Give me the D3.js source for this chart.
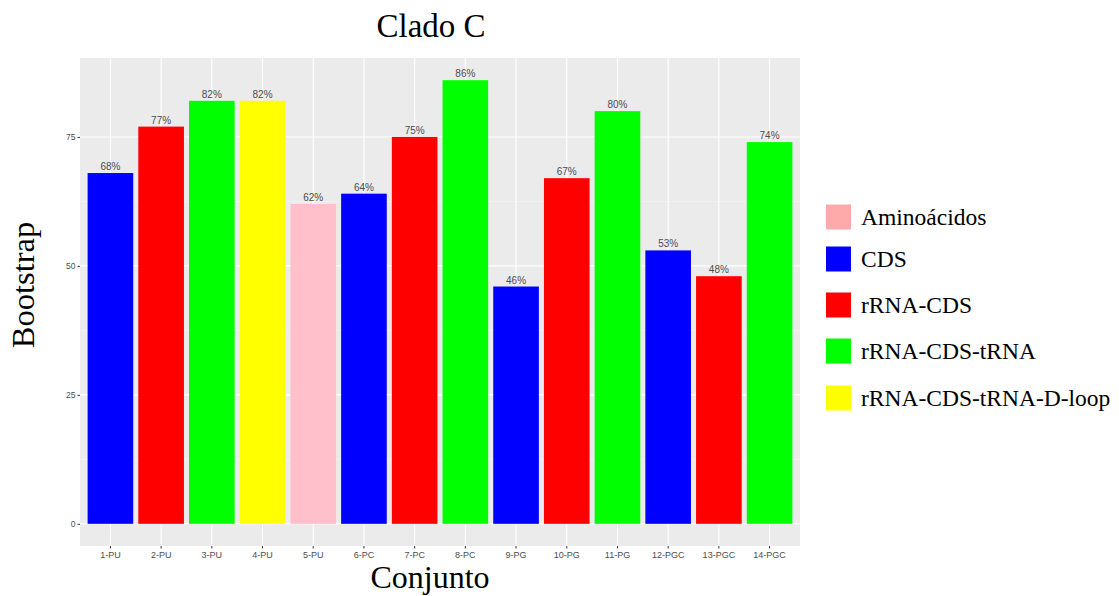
<!DOCTYPE html>
<html><head><meta charset="utf-8">
<script src="https://cdn.jsdelivr.net/npm/d3@7"></script>
<style>body{margin:0;background:#fff;} svg{display:block;}</style>
</head><body>
<svg id="chart" width="1119" height="596"></svg>
<script>
const categories = ["1-PU","2-PU","3-PU","4-PU","5-PU","6-PC","7-PC","8-PC","9-PG","10-PG","11-PG","12-PGC","13-PGC","14-PGC"];
const values = [68,77,82,82,62,64,75,86,46,67,80,53,48,74];
const groups = ["CDS","rRNA-CDS","rRNA-CDS-tRNA","rRNA-CDS-tRNA-D-loop","Aminoácidos","CDS","rRNA-CDS","rRNA-CDS-tRNA","CDS","rRNA-CDS","rRNA-CDS-tRNA","CDS","rRNA-CDS","rRNA-CDS-tRNA"];
const legendLabels = ["Aminoácidos","CDS","rRNA-CDS","rRNA-CDS-tRNA","rRNA-CDS-tRNA-D-loop"];
const barColors = ["#FFC0CB","#0000FF","#FF0000","#00FF00","#FFFF00"];
const legendColors = ["#FFAAAA","#0000FF","#FF0000","#00FF00","#FFFF00"];
const yTicks = [0,25,50,75];

const svg = d3.select("#chart");
const L = 80, R = 800, T = 58, B = 546;
const color = d3.scaleOrdinal().domain(legendLabels).range(barColors);
const legColor = d3.scaleOrdinal().domain(legendLabels).range(legendColors);

// discrete x scale with ggplot-like expansion (0.6 each side)
const n = categories.length;
const step = (R - L) / (n - 1 + 1.2);
const x = d3.scaleBand().domain(categories).range([L + 0.6*step - step/2, R - 0.6*step + step/2]).paddingInner(0.1).paddingOuter(0.05);
const xc = d => x(d) + x.bandwidth()/2;

const ymax = d3.max(values);
const y = d3.scaleLinear().domain([-ymax*0.05, ymax*1.05]).range([B, T]);

svg.append("rect").attr("x", L).attr("y", T).attr("width", R-L).attr("height", B-T).attr("fill", "#EBEBEB");

// minor grid
const minor = [12.5, 37.5, 62.5];
svg.selectAll(".ymin").data(minor).join("line")
  .attr("x1", L).attr("x2", R).attr("y1", d=>y(d)).attr("y2", d=>y(d))
  .attr("stroke", "#F5F5F5").attr("stroke-width", 0.6);
// major grid
svg.selectAll(".ymaj").data(yTicks).join("line")
  .attr("x1", L).attr("x2", R).attr("y1", d=>y(d)).attr("y2", d=>y(d))
  .attr("stroke", "#FFFFFF").attr("stroke-width", 1.1);
svg.selectAll(".xmaj").data(categories).join("line")
  .attr("x1", d=>xc(d)).attr("x2", d=>xc(d)).attr("y1", T).attr("y2", B)
  .attr("stroke", "#FFFFFF").attr("stroke-width", 1.1);

// bars
svg.selectAll(".bar").data(categories).join("rect")
  .attr("x", d=>x(d)).attr("width", x.bandwidth())
  .attr("y", (d,i)=>y(values[i])).attr("height", (d,i)=>y(0)-y(values[i]))
  .attr("fill", (d,i)=>color(groups[i]));

// value labels
svg.selectAll(".lbl").data(categories).join("text")
  .attr("x", d=>xc(d)).attr("y", (d,i)=>y(values[i]) - 3)
  .attr("text-anchor", "middle").attr("font-family", "Liberation Sans, Arial, sans-serif")
  .attr("font-size", 10).attr("fill", "#4D4D4D")
  .text((d,i)=>values[i] + "%");

// axes
const yAxis = d3.axisLeft(y).tickValues(yTicks).tickSize(2.5).tickPadding(2);
const gy = svg.append("g").attr("transform", `translate(${L},0)`).call(yAxis);
gy.select(".domain").remove();
gy.selectAll("line").attr("stroke", "#333333");
gy.selectAll("text").attr("font-family", "Liberation Sans, Arial, sans-serif").attr("font-size", 8.5).attr("fill", "#4D4D4D");

const xAxis = d3.axisBottom(x).tickSize(2.5).tickPadding(3);
const gx = svg.append("g").attr("transform", `translate(0,${B})`).call(xAxis);
gx.select(".domain").remove();
gx.selectAll("line").attr("stroke", "#333333");
gx.selectAll("text").attr("font-family", "Liberation Sans, Arial, sans-serif").attr("font-size", 9).attr("fill", "#4D4D4D");

// titles
svg.append("text").attr("x", 431).attr("y", 37).attr("text-anchor", "middle")
  .attr("font-family", "Liberation Serif, Times New Roman, serif").attr("font-size", 33).attr("fill", "#000").text("Clado C");
svg.append("text").attr("x", 430).attr("y", 588).attr("text-anchor", "middle")
  .attr("font-family", "Liberation Serif, Times New Roman, serif").attr("font-size", 32).attr("fill", "#000").text("Conjunto");
svg.append("text").attr("transform", "translate(34,285) rotate(-90)").attr("text-anchor", "middle")
  .attr("font-family", "Liberation Serif, Times New Roman, serif").attr("font-size", 32.5).attr("fill", "#000").text("Bootstrap");

// legend
const legY = [217, 259, 305, 351, 398];
const lg = svg.append("g");
legendLabels.forEach((lab, i) => {
  lg.append("rect").attr("x", 826).attr("y", legY[i]-12.5).attr("width", 25).attr("height", 25).attr("fill", legColor(lab));
  lg.append("text").attr("x", 861).attr("y", legY[i]+8).attr("font-family", "Liberation Serif, Times New Roman, serif")
    .attr("font-size", 23.5).attr("fill", "#000").text(lab);
});
</script>
</body></html>
